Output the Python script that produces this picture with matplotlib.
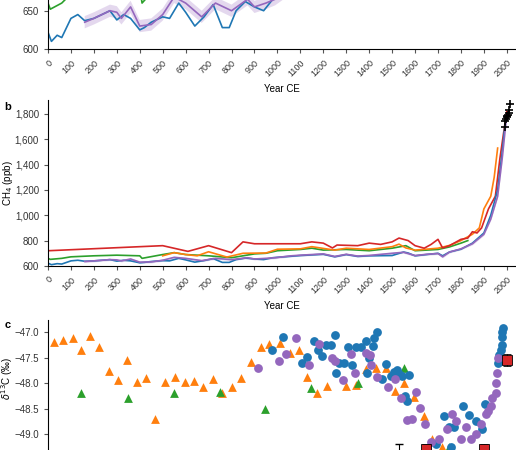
import matplotlib.pyplot as plt
from matplotlib.ticker import FuncFormatter

# ---- panel a/b: CH4 records (ppb) ----
blue_yr = [0, 15, 40, 60, 100, 130, 160, 200, 270, 300, 330, 360, 400, 420, 450, 500, 530, 570, 600, 640, 680, 720, 760, 790, 820, 860, 900, 940, 980, 1000,
           1100, 1200, 1250, 1300, 1350, 1400, 1500, 1550, 1570, 1600, 1650, 1700, 1720, 1750, 1800, 1850, 1900, 1930, 1960, 1980, 1992]
blue_ch4 = [622, 610, 618, 615, 640, 645, 637, 640, 650, 638, 645, 640, 625, 628, 635, 642, 640, 660, 648, 630, 642, 658, 628, 628, 650, 662, 655, 650, 665, 668,
            682, 692, 672, 690, 675, 680, 682, 710, 702, 680, 690, 700, 680, 710, 732, 780, 860, 1000, 1200, 1500, 1720]
purple_yr = [160, 200, 270, 300, 320, 360, 400, 450, 500, 550, 600, 670, 730, 800, 870, 900, 950, 990, 1060, 1100, 1200, 1250, 1300, 1350, 1400,
             1500, 1550, 1600, 1650, 1700, 1720, 1750, 1800, 1850, 1900, 1930, 1960, 1980, 2000]
purple_ch4 = [635, 640, 650, 648, 640, 655, 630, 632, 645, 668, 660, 642, 660, 650, 665, 655, 660, 665, 680, 685, 695, 675, 692, 678, 683,
              700, 708, 682, 692, 698, 672, 710, 735, 775, 850, 970, 1150, 1450, 1800]
green_yr = [0, 10, 60, 100, 200, 300, 400, 410, 500, 550, 600, 700, 800, 900, 950, 1000, 1100, 1150, 1200, 1300, 1400, 1500, 1560, 1600, 1700, 1750, 1800, 1830]
green_ch4 = [660, 652, 660, 672, 680, 685, 680, 660, 690, 705, 690, 680, 665, 695, 700, 720, 730, 740, 725, 730, 720, 740, 760, 720, 730, 750, 780, 800]
orange_yr = [500, 550, 600, 650, 700, 780, 850, 950, 1000, 1100, 1150, 1250, 1300, 1400, 1500, 1530, 1560, 1600, 1700, 1750, 1800, 1850, 1880, 1900, 1930, 1945, 1960]
orange_ch4 = [680, 705, 690, 680, 712, 670, 700, 702, 732, 735, 752, 725, 740, 730, 752, 772, 742, 725, 740, 762, 800, 850, 900, 1050, 1150, 1300, 1530]
red_yr = [0, 500, 610, 700, 800, 850, 900, 1000, 1100, 1150, 1200, 1240, 1260, 1350, 1400, 1450, 1500, 1530, 1570, 1600, 1640, 1670, 1700, 1720,
          1750, 1800, 1830, 1850, 1870, 1890, 1900, 1920, 1950, 1970, 1990, 2000]
red_ch4 = [720, 760, 715, 760, 705, 790, 775, 775, 775, 790, 780, 742, 765, 760, 780, 770, 790, 820, 800, 760, 740, 770, 810, 742,
           760, 810, 820, 870, 860, 900, 950, 1050, 1150, 1450, 1700, 1820]
air_yr = [1990, 1993, 1996, 1999, 2002, 2005, 2008, 2011, 2014]
air_ch4 = [1695, 1740, 1760, 1775, 1780, 1790, 1810, 1830, 1880]

# ---- panel c: d13C-CH4 (permil) ----
tri_o_yr = [26, 66, 107, 146, 185, 222, 265, 303, 343, 386, 428, 468, 508, 552, 596, 635, 675, 720, 760, 800, 842, 883, 927, 965, 1010, 1055,
            1095, 1130, 1173, 1217, 1300, 1343, 1386, 1430, 1473, 1513, 1552, 1596, 1640, 1675, 1718]
tri_o_d = [-47.2, -47.15, -47.12, -47.35, -47.08, -47.3, -47.77, -47.93, -47.55, -47.98, -47.9, -48.7, -47.97, -47.87, -47.97, -47.95, -48.08,
           -47.92, -48.2, -48.07, -47.9, -47.58, -47.3, -47.23, -47.22, -47.4, -47.35, -47.87, -48.2, -48.05, -48.05, -48.03, -47.73, -47.7,
           -47.7, -48.15, -48.0, -48.27, -48.65, -49.1, -49.25]
tri_g_yr = [146, 348, 548, 748, 948, 1148, 1352, 1552, 1748]
tri_g_d = [-48.2, -48.3, -48.2, -48.18, -48.5, -48.1, -48.0, -47.7, -49.25]
dot_b_yr = [978, 1026, 1109, 1131, 1161, 1178, 1196, 1213, 1235, 1252, 1256, 1270, 1291, 1309, 1327, 1343, 1365, 1386, 1391, 1400, 1417, 1422,
            1435, 1457, 1473, 1496, 1509, 1522, 1530, 1543, 1557, 1565, 1574, 1690, 1726, 1748, 1757, 1770, 1809, 1835, 1865, 1891, 1904,
            1961, 1965, 1974, 1978, 1980, 1981, 1983]
dot_b_d = [-47.35, -47.1, -47.6, -47.48, -47.18, -47.35, -47.47, -47.25, -47.25, -47.05, -47.8, -47.6, -47.6, -47.3, -47.65, -47.3, -47.3,
           -47.18, -47.8, -47.5, -47.27, -47.12, -47.0, -47.92, -47.63, -47.85, -47.78, -47.75, -47.82, -47.85, -48.25, -48.35, -47.83,
           -49.2, -48.65, -48.85, -49.25, -48.85, -48.45, -48.63, -48.75, -48.9, -48.4, -47.6, -47.45, -47.35, -47.25, -47.1, -47.0, -46.92]
dot_p_yr = [917, 1009, 1039, 1083, 1139, 1183, 1239, 1252, 1287, 1322, 1339, 1386, 1404, 1409, 1435, 1483, 1513, 1539, 1565, 1587, 1604,
            1622, 1643, 1670, 1704, 1739, 1761, 1778, 1800, 1822, 1843, 1865, 1887, 1909, 1917, 1930, 1935, 1952, 1955, 1957, 1961]
dot_p_d = [-47.7, -47.57, -47.42, -47.12, -47.65, -47.23, -47.5, -47.57, -47.93, -47.42, -47.8, -47.4, -47.45, -47.65, -47.88, -48.07,
           -47.92, -48.3, -48.72, -48.7, -48.18, -48.48, -48.8, -49.15, -49.1, -48.9, -48.6, -48.75, -49.1, -48.85, -49.1, -49.0, -48.8,
           -48.6, -48.55, -48.45, -48.3, -48.2, -48.0, -47.8, -47.5]
sq_yr = [1648, 1900, 2000]
sq_d = [-49.3, -49.3, -47.55]
sq_err = [0.1, 0.1, 0.12]

BLUE, ORANGE, GREEN, RED, PURPLE = '#1f77b4', '#ff7f0e', '#2ca02c', '#d62728', '#9467bd'
plt.rcParams['font.family'] = ['Liberation Sans', 'DejaVu Sans']
plt.rcParams['font.size'] = 7

fig = plt.figure(figsize=(5.16, 4.5), dpi=100)
L, W = 0.093, 0.907
ax_a = fig.add_axes([L, 0.891, W, 0.109])
ax_b = fig.add_axes([L, 0.409, W, 0.369])
ax_c = fig.add_axes([L, 0.0, W, 0.289])

xticks = list(range(0, 2001, 100))

def draw_ch4(ax):
    ax.fill_between(purple_yr, [v - 8 for v in purple_ch4], [v + 8 for v in purple_ch4], color=PURPLE, alpha=0.25, lw=0)
    ax.plot(green_yr, green_ch4, color=GREEN, lw=1.2)
    ax.plot(orange_yr, orange_ch4, color=ORANGE, lw=1.2)
    ax.plot(red_yr, red_ch4, color=RED, lw=1.2)
    ax.plot(blue_yr, blue_ch4, color=BLUE, lw=1.2)
    ax.plot(purple_yr, purple_ch4, color=PURPLE, lw=1.2)
    ax.set_xlim(0, 2040)
    ax.set_xticks(xticks)
    ax.set_xticklabels([str(t) for t in xticks], rotation=45, ha='right', rotation_mode='anchor', fontsize=6.5)
    ax.set_xlabel('Year CE', fontsize=7)
    for s in ['top', 'right']:
        ax.spines[s].set_visible(False)
    ax.tick_params(length=3, color='#555555', labelcolor='#333333')

draw_ch4(ax_a)
ax_a.set_ylim(600, 664)
ax_a.set_yticks([600, 650])

draw_ch4(ax_b)
ax_b.plot(air_yr, air_ch4, 'k+', ms=6, mew=1.2)
ax_b.set_ylim(600, 1910)
ax_b.set_yticks(range(600, 1801, 200))
ax_b.yaxis.set_major_formatter(FuncFormatter(lambda v, p: f'{int(v):,}'))
ax_b.set_ylabel('CH$_4$ (ppb)', fontsize=7)
ax_b.yaxis.set_label_coords(-0.07, 0.5)

ax_c.scatter(tri_o_yr, tri_o_d, marker='^', s=40, color=ORANGE, lw=0)
ax_c.scatter(tri_g_yr, tri_g_d, marker='^', s=40, color=GREEN, lw=0)
ax_c.scatter(dot_b_yr, dot_b_d, marker='o', s=40, color=BLUE, lw=0)
ax_c.scatter(dot_p_yr, dot_p_d, marker='o', s=40, color=PURPLE, lw=0)
ax_c.errorbar([1530], [-49.3], yerr=[0.1], fmt='none', ecolor='k', capsize=3, lw=0.8)
ax_c.errorbar(sq_yr, sq_d, yerr=sq_err, fmt='s', ms=7, mfc=RED, mec='k', mew=0.6, ecolor='k', capsize=3, lw=0.8)
ax_c.set_xlim(0, 2040)
ax_c.set_ylim(-49.31, -46.76)
ax_c.set_yticks([-47.0, -47.5, -48.0, -48.5, -49.0])
ax_c.yaxis.set_major_formatter(FuncFormatter(lambda v, p: f'{v:.1f}'.replace('-', '\u2212')))
ax_c.set_ylabel('$\\delta^{13}$C (‰)', fontsize=7)
ax_c.yaxis.set_label_coords(-0.07, 0.55)
ax_c.set_xticks([])
for s in ['top', 'right', 'bottom']:
    ax_c.spines[s].set_visible(False)
ax_c.tick_params(length=3, color='#555555', labelcolor='#333333')

fig.text(0.008, 0.755, 'b', fontsize=8, fontweight='bold')
fig.text(0.008, 0.27, 'c', fontsize=8, fontweight='bold')

fig.savefig('out.png', dpi=100)
